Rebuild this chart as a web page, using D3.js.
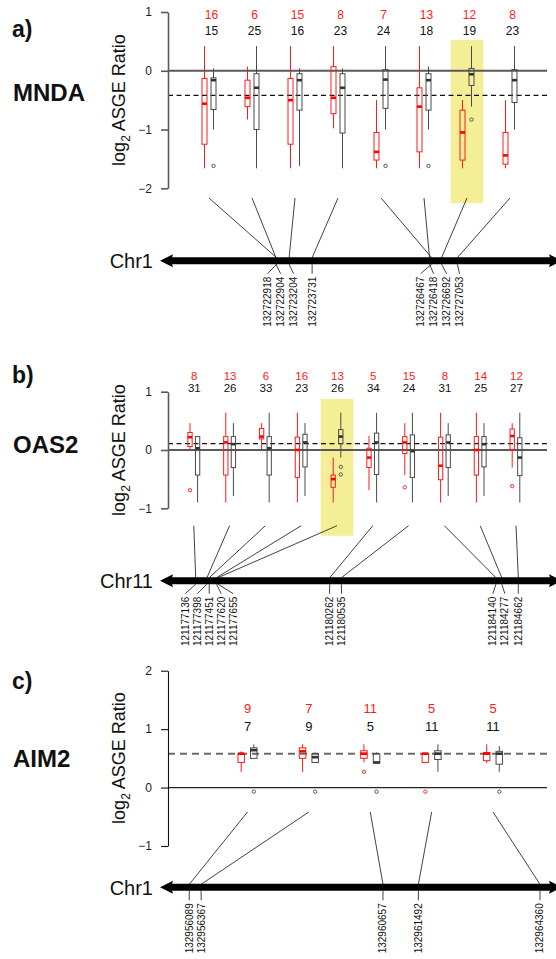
<!DOCTYPE html>
<html><head><meta charset="utf-8">
<script src="https://cdn.jsdelivr.net/npm/d3@7"></script>
<style>
body{margin:0;background:#fff}
svg{display:block}
text{font-family:"Liberation Sans",Arial,Helvetica,sans-serif}
</style>
</head><body>
<svg id="chart" width="556" height="959"></svg>
<script>
// ================= DATA =================
// Box stats: [lower whisker, Q1, median, Q3, upper whisker] (log2 ASGE ratio)

// ---- a) MNDA ----
const mndaRedN   = [16, 6, 15, 8, 7, 13, 12, 8];
const mndaBlackN = [15, 25, 16, 23, 24, 18, 19, 23];
const mndaRedBox = [
  [-1.66, -1.25, -0.56, -0.13, 0.42],
  [-0.83, -0.61, -0.46, -0.16, 0.07],
  [-1.66, -1.25, -0.50, -0.13, 0.42],
  [-0.98, -0.73, -0.46, 0.07, 0.42],
  [-1.66, -1.52, -1.38, -1.05, -0.50],
  [-1.66, -1.38, -0.61, -0.29, 0.42],
  [-1.66, -1.52, -1.05, -0.67, -0.50],
  [-1.66, -1.59, -1.44, -1.05, -0.50]
];
const mndaBlackBox = [
  [-1.00, -0.66, -0.16, -0.12, 0.04],
  [-1.66, -1.00, -0.29, -0.05, 0.42],
  [-1.62, -0.67, -0.16, -0.05, 0.04],
  [-1.66, -1.06, -0.29, -0.05, 0.04],
  [-1.00, -0.64, -0.15, 0.02, 0.42],
  [-1.00, -0.67, -0.16, -0.05, 0.07],
  [-0.61, -0.25, -0.06, 0.04, 0.42],
  [-1.00, -0.54, -0.16, 0.02, 0.42]
];
const mndaRedOut   = [[], [], [], [], [], [], [], []];
const mndaBlackOut = [[-1.62], [], [], [], [-1.62], [-1.62], [-0.83], []];
const mndaSnps = ["132722918", "132722904", "132723204", "132723731",
                  "132726467", "132726418", "132726692", "132727053"];
const mndaWindow = [132720250, 132729311];
const mndaRef = -0.42;
const mndaHighlight = 6;
const mndaTicks = [1, 0, -1, -2];

// ---- b) OAS2 ----
const oas2RedN   = [8, 13, 6, 16, 13, 5, 15, 8, 14, 12];
const oas2BlackN = [31, 26, 33, 23, 26, 34, 24, 31, 25, 27];
const oas2RedBox = [
  [0.00, 0.06, 0.22, 0.30, 0.46],
  [-0.90, -0.43, 0.13, 0.23, 0.64],
  [0.01, 0.19, 0.23, 0.37, 0.46],
  [-0.90, -0.47, 0.00, 0.22, 0.64],
  [-0.90, -0.64, -0.50, -0.43, -0.13],
  [-0.69, -0.30, -0.13, 0.03, 0.24],
  [-0.43, -0.06, 0.13, 0.23, 0.46],
  [-0.90, -0.51, -0.27, 0.22, 0.64],
  [-0.90, -0.43, 0.00, 0.23, 0.64],
  [-0.30, 0.01, 0.24, 0.36, 0.46]
];
const oas2BlackBox = [
  [-0.90, -0.43, 0.03, 0.23, 0.23],
  [-0.79, -0.30, 0.10, 0.23, 0.46],
  [-0.90, -0.43, 0.03, 0.23, 0.64],
  [-0.79, -0.29, 0.13, 0.27, 0.46],
  [-0.13, 0.11, 0.23, 0.35, 0.64],
  [-0.90, -0.42, 0.13, 0.29, 0.64],
  [-0.90, -0.47, -0.02, 0.26, 0.64],
  [-0.79, -0.30, 0.13, 0.26, 0.46],
  [-0.79, -0.29, 0.10, 0.23, 0.46],
  [-0.90, -0.44, -0.13, 0.21, 0.64]
];
const oas2RedOut   = [[-0.69], [], [], [], [], [], [-0.64], [], [], [-0.62]];
const oas2BlackOut = [[], [], [], [], [-0.29, -0.42], [], [], [], [], []];
const oas2Snps = ["121177136", "121177398", "121177451", "121177620", "121177655",
                  "121180262", "121180535", "121184140", "121184277", "121184662"];
const oas2Window = [121176303, 121185541];
const oas2Ref = 0.11;
const oas2Highlight = 4;
const oas2Ticks = [1, 0, -1];

// ---- c) AIM2 ----
const aim2RedN   = [9, 7, 11, 5, 5];
const aim2BlackN = [7, 9, 5, 11, 11];
const aim2RedBox = [
  [0.27, 0.43, 0.58, 0.58, 0.62],
  [0.27, 0.50, 0.62, 0.68, 0.74],
  [0.43, 0.50, 0.58, 0.63, 0.74],
  [0.43, 0.43, 0.58, 0.58, 0.59],
  [0.42, 0.46, 0.58, 0.60, 0.74]
];
const aim2BlackBox = [
  [0.50, 0.50, 0.64, 0.68, 0.74],
  [0.43, 0.43, 0.52, 0.58, 0.60],
  [0.42, 0.42, 0.43, 0.58, 0.60],
  [0.27, 0.48, 0.58, 0.63, 0.74],
  [0.27, 0.40, 0.58, 0.62, 0.71]
];
const aim2RedOut   = [[], [], [0.27], [-0.07], []];
const aim2BlackOut = [[-0.07], [-0.07], [-0.07], [], [-0.07]];
const aim2Snps = ["132956089", "132956367", "132960657", "132961492", "132964360"];
const aim2Window = [132955398, 132964738];
const aim2Ref = 0.58;
const aim2Highlight = -1;
const aim2Ticks = [2, 1, 0, -1];

// ================= PANELS (built from data + layout) =================
const panels = [
  { letter: "a)", gene: "MNDA", chr: "Chr1",
    redN: mndaRedN, blackN: mndaBlackN, redBox: mndaRedBox, blackBox: mndaBlackBox,
    redOut: mndaRedOut, blackOut: mndaBlackOut, snps: mndaSnps, win: mndaWindow,
    ref: mndaRef, hl: mndaHighlight, ticks: mndaTicks, yDomain: [-2, 1],
    L: { yRange: [188.3, 12], xRange: [209, 510], off: 4.5, bw: 5,
         cRedY: 18.5, cBlackY: 34.5, cFs: 12, cShift: 2.5,
         connTop: 198, arrowY: 260.7, hlY: [40, 203.3], hlW: 32.7,
         letterY: 37, geneY: 100.7, titleY: 100, gap: 13, style: "grey" } },
  { letter: "b)", gene: "OAS2", chr: "Chr11",
    redN: oas2RedN, blackN: oas2BlackN, redBox: oas2RedBox, blackBox: oas2BlackBox,
    redOut: oas2RedOut, blackOut: oas2BlackOut, snps: oas2Snps, win: oas2Window,
    ref: oas2Ref, hl: oas2Highlight, ticks: oas2Ticks, yDomain: [-1, 1],
    L: { yRange: [508.3, 391.7], xRange: [193.8, 516], off: 3.8, bw: 4.3,
         cRedY: 380, cBlackY: 391.7, cFs: 11.5, cShift: 0.5,
         connTop: 525.7, arrowY: 580.7, hlY: [399, 535.7], hlW: 32.7,
         letterY: 383, geneY: 453, titleY: 450, gap: 12, style: "grey" } },
  { letter: "c)", gene: "AIM2", chr: "Chr1",
    redN: aim2RedN, blackN: aim2BlackN, redBox: aim2RedBox, blackBox: aim2BlackBox,
    redOut: aim2RedOut, blackOut: aim2BlackOut, snps: aim2Snps, win: aim2Window,
    ref: aim2Ref, hl: aim2Highlight, ticks: aim2Ticks, yDomain: [-1, 2],
    L: { yRange: [846, 670.7], xRange: [247.5, 493], off: 6.3, bw: 6.5,
         cRedY: 713.3, cBlackY: 731, cFs: 13, cShift: 0,
         connTop: 812, arrowY: 887.3, hlY: [0, 0], hlW: 0,
         letterY: 688.5, geneY: 767, titleY: 758, gap: 12, style: "black" } }
];

const RED = "#ff1a1a";
const DARK = "#4a4a4a";
const AXIS_X = 168;
const PLOT_RIGHT = 547;
const CHR_RANGE = [160, 556];

const svg = d3.select("#chart");

// isotonic spreading of labels with a minimal gap
function spread(targets, gap) {
  const blocks = [];
  targets.forEach((t, i) => {
    blocks.push({ sum: t - i * gap, n: 1, start: i });
    while (blocks.length > 1) {
      const b = blocks[blocks.length - 1], a = blocks[blocks.length - 2];
      if (a.sum / a.n > b.sum / b.n) { a.sum += b.sum; a.n += b.n; blocks.pop(); }
      else break;
    }
  });
  const out = [];
  blocks.forEach(b => { for (let k = 0; k < b.n; k++) out.push(b.sum / b.n + (b.start + k) * gap); });
  return out;
}

panels.forEach(p => {
  const L = p.L;
  const g = svg.append("g");
  const y = d3.scaleLinear().domain(p.yDomain).range(L.yRange);
  const x = d3.scalePoint().domain(d3.range(p.redN.length)).range(L.xRange);
  const cx = d3.scaleLinear().domain(p.win).range(CHR_RANGE);

  // highlight
  if (p.hl >= 0) {
    g.append("rect")
      .attr("x", x(p.hl) - L.hlW / 2).attr("y", L.hlY[0])
      .attr("width", L.hlW).attr("height", L.hlY[1] - L.hlY[0])
      .attr("fill", "#f4ee96");
  }

  // zero + reference lines
  const grey = L.style === "grey";
  g.append("line").attr("x1", AXIS_X).attr("x2", PLOT_RIGHT)
    .attr("y1", y(0)).attr("y2", y(0))
    .attr("stroke", grey ? "#5a5a5a" : "#222").attr("stroke-width", grey ? 2 : 1.2);
  g.append("line").attr("x1", AXIS_X).attr("x2", PLOT_RIGHT)
    .attr("y1", y(p.ref)).attr("y2", y(p.ref))
    .attr("stroke", grey ? "#111" : "#6a6a6a")
    .attr("stroke-width", grey ? 1.2 : 2)
    .attr("stroke-dasharray", grey ? "5,3.5" : "7,5");

  // y axis
  const ax = g.append("g").attr("transform", `translate(${AXIS_X},0)`)
    .call(d3.axisLeft(y).tickValues(p.ticks).tickSize(7).tickSizeOuter(0).tickPadding(9)
      .tickFormat(d3.format("d")));
  ax.select(".domain").attr("stroke", grey ? "#5a5a5a" : "#111").attr("stroke-width", grey ? 1.6 : 1.1);
  ax.selectAll(".tick line").attr("stroke", grey ? "#5a5a5a" : "#111").attr("stroke-width", grey ? 1.6 : 1.1);
  ax.selectAll(".tick text").attr("font-size", 12).attr("fill", "#222")
    .attr("font-family", '"Liberation Sans",Arial,sans-serif');

  // y title
  const t = g.append("text")
    .attr("transform", `translate(125,${L.titleY}) rotate(-90)`)
    .attr("text-anchor", "middle").attr("font-size", 18).attr("fill", "#111");
  t.append("tspan").text("log");
  t.append("tspan").text("2").attr("font-size", 12).attr("dy", 5);
  t.append("tspan").text(" ASGE Ratio").attr("dy", -5);

  // letters + gene name
  g.append("text").attr("x", 12).attr("y", L.letterY).attr("font-size", 23)
    .attr("font-weight", "bold").attr("fill", "#111").text(p.letter);
  g.append("text").attr("x", 13).attr("y", L.geneY).attr("font-size", 24)
    .attr("font-weight", "bold").attr("fill", "#111").text(p.gene);

  // boxes
  const series = [
    { box: p.redBox, out: p.redOut, dx: -L.off, color: RED, med: "#ff0000" },
    { box: p.blackBox, out: p.blackOut, dx: L.off, color: DARK, med: "#333" }
  ];
  series.forEach(s => {
    s.box.forEach((b, i) => {
      const xc = x(i) + s.dx;
      const bg = g.append("g");
      bg.append("line").attr("x1", xc).attr("x2", xc).attr("y1", y(b[4])).attr("y2", y(b[3]))
        .attr("stroke", s.color).attr("stroke-width", 1);
      bg.append("line").attr("x1", xc).attr("x2", xc).attr("y1", y(b[1])).attr("y2", y(b[0]))
        .attr("stroke", s.color).attr("stroke-width", 1);
      bg.append("rect").attr("x", xc - L.bw / 2).attr("y", y(b[3]))
        .attr("width", L.bw).attr("height", Math.max(0.5, y(b[1]) - y(b[3])))
        .attr("fill", "none").attr("stroke", s.color).attr("stroke-width", 1);
      bg.append("line").attr("x1", xc - L.bw / 2).attr("x2", xc + L.bw / 2)
        .attr("y1", y(b[2])).attr("y2", y(b[2]))
        .attr("stroke", s.med).attr("stroke-width", 2.6);
      s.out[i].forEach(o => {
        bg.append("circle").attr("cx", xc).attr("cy", y(o)).attr("r", 1.7)
          .attr("fill", "none").attr("stroke", s.color).attr("stroke-width", 0.9);
      });
    });
  });

  // counts
  p.redN.forEach((n, i) => {
    g.append("text").attr("x", x(i) + L.cShift).attr("y", L.cRedY).attr("text-anchor", "middle")
      .attr("font-size", L.cFs).attr("fill", RED).text(n);
  });
  p.blackN.forEach((n, i) => {
    g.append("text").attr("x", x(i) + L.cShift).attr("y", L.cBlackY).attr("text-anchor", "middle")
      .attr("font-size", L.cFs).attr("fill", "#111").text(n);
  });

  // connectors from groups to chromosome
  const ay = L.arrowY;
  p.snps.forEach((s, i) => {
    g.append("line").attr("x1", x(i)).attr("y1", L.connTop)
      .attr("x2", cx(+s)).attr("y2", ay - 3)
      .attr("stroke", "#111").attr("stroke-width", 0.8);
  });

  // chromosome arrow
  g.append("line").attr("x1", CHR_RANGE[0] + 8).attr("x2", 554).attr("y1", ay).attr("y2", ay)
    .attr("stroke", "#000").attr("stroke-width", 7);
  g.append("path").attr("d", `M${CHR_RANGE[0]},${ay} L${CHR_RANGE[0] + 13},${ay - 6.5} L${CHR_RANGE[0] + 11},${ay} L${CHR_RANGE[0] + 13},${ay + 6.5} Z`)
    .attr("fill", "#000");
  g.append("path").attr("d", `M562,${ay} L549,${ay - 6.5} L551,${ay} L549,${ay + 6.5} Z`)
    .attr("fill", "#000");
  g.append("text").attr("x", 153).attr("y", ay + 7.3).attr("text-anchor", "end")
    .attr("font-size", 20).attr("fill", "#111").text(p.chr);

  // SNP position labels
  const targets = p.snps.map(s => cx(+s));
  const lx = spread(targets, L.gap);
  p.snps.forEach((s, i) => {
    g.append("line").attr("x1", targets[i]).attr("y1", ay + 3.5)
      .attr("x2", lx[i]).attr("y2", ay + 13)
      .attr("stroke", "#111").attr("stroke-width", 0.8);
    g.append("text")
      .attr("transform", `translate(${lx[i]},${ay + 16}) rotate(-90)`)
      .attr("text-anchor", "end").attr("dy", "0.35em")
      .attr("font-size", 10).attr("fill", "#111").text(s);
  });
});
</script>
</body></html>
